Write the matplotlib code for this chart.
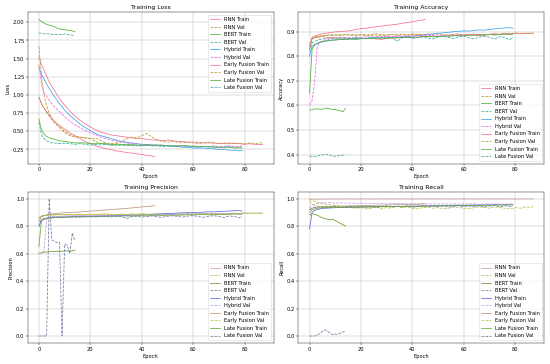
import matplotlib
matplotlib.use("Agg")
import matplotlib.pyplot as plt

# epochs at which values were read (denser at start)
rnn_epochs = [0, 1, 2, 3, 4, 5, 6] + list(range(8, 87, 2)) + [87]
hyb_epochs = [0, 1, 2, 3, 4, 5, 6] + list(range(8, 79, 2)) + [79]
late_epochs = hyb_epochs
early_epochs = [0, 1, 2, 3, 4, 5, 6] + list(range(8, 45, 2)) + [45]
bert_epochs = list(range(15))

# ---- loss ----
rnn_loss_train = [1.52, 1.42, 1.34, 1.26, 1.18, 1.12, 1.06, 0.95, 0.86, 0.78, 0.71, 0.65, 0.60, 0.56, 0.52, 0.49, 0.47,
                  0.45, 0.44, 0.43, 0.42, 0.41, 0.40, 0.40, 0.39, 0.38, 0.38, 0.37, 0.38, 0.37, 0.36, 0.36, 0.35,
                  0.35, 0.35, 0.34, 0.34, 0.34, 0.33, 0.33, 0.34, 0.33, 0.33, 0.32, 0.33, 0.32, 0.32, 0.32]
rnn_loss_val = [1.67, 1.25, 1.00, 0.85, 0.75, 0.68, 0.62, 0.55, 0.48, 0.44, 0.42, 0.42, 0.41, 0.40, 0.41, 0.37, 0.34,
                0.33, 0.34, 0.36, 0.40, 0.42, 0.41, 0.44, 0.47, 0.42, 0.38, 0.36, 0.35, 0.36, 0.35, 0.34, 0.35,
                0.34, 0.33, 0.34, 0.35, 0.34, 0.33, 0.34, 0.33, 0.34, 0.33, 0.33, 0.34, 0.33, 0.34, 0.34]
bert_loss_train = [2.04, 2.01, 1.99, 1.97, 1.96, 1.95, 1.94, 1.92, 1.91, 1.90, 1.90, 1.89, 1.89, 1.88, 1.87]
bert_loss_val = [1.85, 1.85, 1.84, 1.84, 1.84, 1.83, 1.83, 1.83, 1.83, 1.83, 1.84, 1.83, 1.83, 1.82, 1.82]
hyb_loss_train = [1.38, 1.28, 1.22, 1.15, 1.09, 1.03, 0.98, 0.88, 0.79, 0.72, 0.66, 0.60, 0.55, 0.51, 0.47, 0.44, 0.42,
                  0.40, 0.38, 0.36, 0.35, 0.34, 0.33, 0.32, 0.32, 0.31, 0.31, 0.30, 0.30, 0.29, 0.29, 0.28, 0.28,
                  0.27, 0.27, 0.27, 0.26, 0.26, 0.25, 0.25, 0.24, 0.24, 0.23, 0.24]
hyb_loss_val = [1.42, 1.15, 1.02, 0.98, 0.93, 0.88, 0.84, 0.77, 0.70, 0.64, 0.59, 0.55, 0.51, 0.48, 0.45, 0.42, 0.40,
                0.38, 0.37, 0.35, 0.34, 0.33, 0.33, 0.32, 0.32, 0.31, 0.31, 0.31, 0.30, 0.30, 0.30, 0.30, 0.29,
                0.30, 0.29, 0.29, 0.29, 0.30, 0.29, 0.29, 0.30, 0.29, 0.29, 0.30]
early_loss_train = [0.97, 0.88, 0.82, 0.77, 0.72, 0.68, 0.64, 0.58, 0.53, 0.48, 0.44, 0.40, 0.36, 0.33, 0.30, 0.28,
                    0.26, 0.25, 0.23, 0.22, 0.21, 0.20, 0.19, 0.18, 0.17, 0.16, 0.15]
early_loss_val = [0.97, 0.88, 0.82, 0.76, 0.71, 0.66, 0.62, 0.56, 0.50, 0.46, 0.43, 0.42, 0.41, 0.40, 0.36, 0.33,
                  0.32, 0.31, 0.33, 0.32, 0.31, 0.30, 0.31, 0.30, 0.31, 0.30, 0.30]
late_loss_train = [0.67, 0.52, 0.46, 0.43, 0.41, 0.40, 0.39, 0.37, 0.36, 0.35, 0.34, 0.34, 0.34, 0.33, 0.33, 0.33,
                   0.33, 0.32, 0.32, 0.32, 0.32, 0.32, 0.31, 0.31, 0.31, 0.31, 0.31, 0.31, 0.30, 0.30, 0.30, 0.30,
                   0.30, 0.29, 0.29, 0.29, 0.29, 0.28, 0.28, 0.28, 0.28, 0.27, 0.27, 0.27]
late_loss_val = [0.62, 0.45, 0.40, 0.37, 0.35, 0.34, 0.34, 0.33, 0.33, 0.33, 0.32, 0.33, 0.32, 0.31, 0.32, 0.31,
                 0.32, 0.31, 0.30, 0.31, 0.30, 0.31, 0.30, 0.30, 0.31, 0.30, 0.30, 0.29, 0.30, 0.30, 0.29, 0.30,
                 0.29, 0.29, 0.28, 0.29, 0.28, 0.29, 0.28, 0.28, 0.29, 0.28, 0.28, 0.29]

# ---- accuracy ----
rnn_acc_train = [0.83, 0.87, 0.875, 0.877, 0.878, 0.88, 0.878, 0.876, 0.875, 0.874, 0.873, 0.872, 0.872, 0.873, 0.872,
                 0.873, 0.870, 0.868, 0.872, 0.873, 0.874, 0.876, 0.877, 0.876, 0.878, 0.879, 0.880, 0.881, 0.880,
                 0.882, 0.883, 0.884, 0.883, 0.885, 0.886, 0.886, 0.888, 0.887, 0.889, 0.890, 0.889, 0.891, 0.890,
                 0.892, 0.893, 0.892, 0.894, 0.893]
rnn_acc_val = [0.84, 0.875, 0.878, 0.88, 0.882, 0.885, 0.884, 0.888, 0.886, 0.889, 0.887, 0.890, 0.886, 0.889, 0.887,
               0.889, 0.891, 0.888, 0.885, 0.889, 0.887, 0.890, 0.888, 0.891, 0.889, 0.886, 0.890, 0.888, 0.892,
               0.887, 0.885, 0.889, 0.891, 0.886, 0.888, 0.890, 0.887, 0.884, 0.889, 0.891, 0.888, 0.893, 0.890,
               0.895, 0.891, 0.894, 0.892, 0.894]
bert_acc_train = [0.581, 0.582, 0.585, 0.586, 0.584, 0.585, 0.587, 0.589, 0.585, 0.584, 0.583, 0.580, 0.578, 0.574,
                  0.588]
bert_acc_val = [0.392, 0.393, 0.391, 0.394, 0.396, 0.399, 0.402, 0.400, 0.397, 0.394, 0.393, 0.395, 0.394, 0.398,
                0.399]
hyb_acc_train = [0.80, 0.84, 0.848, 0.852, 0.856, 0.858, 0.860, 0.864, 0.866, 0.868, 0.869, 0.870, 0.871, 0.872,
                 0.873, 0.874, 0.875, 0.876, 0.877, 0.878, 0.878, 0.880, 0.879, 0.882, 0.884, 0.886, 0.889, 0.891,
                 0.893, 0.895, 0.897, 0.900, 0.901, 0.903, 0.902, 0.905, 0.907, 0.906, 0.909, 0.911, 0.913, 0.915,
                 0.916, 0.913]
hyb_acc_val = [0.60, 0.62, 0.70, 0.84, 0.855, 0.862, 0.866, 0.870, 0.872, 0.874, 0.876, 0.875, 0.878, 0.877, 0.879,
               0.878, 0.880, 0.879, 0.881, 0.880, 0.882, 0.881, 0.883, 0.882, 0.884, 0.883, 0.885, 0.884, 0.886,
               0.885, 0.887, 0.886, 0.888, 0.887, 0.888, 0.889, 0.887, 0.889, 0.888, 0.890, 0.889, 0.891, 0.890,
               0.889]
early_acc_train = [0.83, 0.875, 0.882, 0.886, 0.889, 0.891, 0.893, 0.896, 0.899, 0.900, 0.902, 0.904, 0.909, 0.912,
                   0.914, 0.917, 0.920, 0.922, 0.925, 0.928, 0.930, 0.934, 0.937, 0.940, 0.944, 0.947, 0.950]
early_acc_val = [0.85, 0.872, 0.876, 0.879, 0.880, 0.882, 0.884, 0.883, 0.886, 0.884, 0.887, 0.885, 0.884, 0.886,
                 0.883, 0.885, 0.887, 0.884, 0.886, 0.888, 0.885, 0.887, 0.886, 0.888, 0.887, 0.889, 0.888]
late_acc_train = [0.65, 0.83, 0.845, 0.852, 0.857, 0.86, 0.862, 0.865, 0.866, 0.868, 0.869, 0.870, 0.868, 0.871,
                  0.872, 0.871, 0.873, 0.874, 0.873, 0.875, 0.876, 0.875, 0.877, 0.878, 0.877, 0.879, 0.880, 0.879,
                  0.881, 0.882, 0.881, 0.883, 0.884, 0.883, 0.885, 0.886, 0.884, 0.887, 0.888, 0.886, 0.889, 0.890,
                  0.889, 0.890]
late_acc_val = [0.82, 0.855, 0.86, 0.865, 0.868, 0.87, 0.872, 0.874, 0.870, 0.875, 0.873, 0.871, 0.876, 0.874, 0.872,
                0.877, 0.875, 0.873, 0.878, 0.876, 0.861, 0.875, 0.878, 0.872, 0.876, 0.880, 0.874, 0.870, 0.878,
                0.881, 0.876, 0.872, 0.879, 0.882, 0.875, 0.870, 0.878, 0.881, 0.877, 0.869, 0.880, 0.876, 0.866,
                0.879]

# ---- precision ----
rnn_prec_train = [0.86, 0.875, 0.878, 0.88, 0.882, 0.884, 0.885, 0.884, 0.883, 0.882, 0.881, 0.880, 0.880, 0.881,
                  0.880, 0.881, 0.879, 0.878, 0.880, 0.881, 0.882, 0.883, 0.884, 0.883, 0.885, 0.886, 0.886, 0.887,
                  0.886, 0.888, 0.888, 0.889, 0.888, 0.890, 0.890, 0.891, 0.892, 0.891, 0.893, 0.893, 0.892, 0.894,
                  0.893, 0.895, 0.895, 0.894, 0.896, 0.895]
rnn_prec_val = [0.85, 0.87, 0.875, 0.878, 0.88, 0.882, 0.880, 0.885, 0.883, 0.887, 0.884, 0.889, 0.882, 0.888, 0.885,
                0.887, 0.890, 0.884, 0.881, 0.888, 0.884, 0.889, 0.886, 0.891, 0.887, 0.883, 0.889, 0.886, 0.892,
                0.884, 0.880, 0.887, 0.891, 0.882, 0.886, 0.890, 0.884, 0.879, 0.888, 0.891, 0.886, 0.893, 0.889,
                0.896, 0.890, 0.894, 0.891, 0.885]
bert_prec_train = [0.60, 0.605, 0.61, 0.612, 0.614, 0.615, 0.616, 0.617, 0.618, 0.617, 0.619, 0.620, 0.618, 0.621,
                   0.625]
bert_prec_val = [0.0, 0.0, 0.0, 0.0, 1.0, 0.70, 0.69, 0.68, 0.68, 0.0, 0.67, 0.66, 0.60, 0.75, 0.69]
hyb_prec_train = [0.80, 0.84, 0.85, 0.855, 0.858, 0.860, 0.862, 0.864, 0.866, 0.867, 0.868, 0.869, 0.870, 0.871,
                  0.872, 0.873, 0.874, 0.875, 0.876, 0.877, 0.878, 0.879, 0.880, 0.882, 0.884, 0.886, 0.888, 0.890,
                  0.892, 0.893, 0.895, 0.897, 0.898, 0.900, 0.899, 0.902, 0.904, 0.903, 0.906, 0.908, 0.910, 0.912,
                  0.913, 0.910]
hyb_prec_val = [0.60, 0.61, 0.62, 0.86, 0.865, 0.868, 0.870, 0.872, 0.874, 0.875, 0.876, 0.875, 0.877, 0.876, 0.878,
                0.877, 0.879, 0.878, 0.880, 0.879, 0.881, 0.880, 0.882, 0.881, 0.883, 0.882, 0.884, 0.883, 0.885,
                0.884, 0.886, 0.885, 0.887, 0.886, 0.887, 0.888, 0.886, 0.888, 0.887, 0.889, 0.888, 0.890, 0.889,
                0.888]
early_prec_train = [0.83, 0.87, 0.878, 0.882, 0.886, 0.889, 0.891, 0.894, 0.897, 0.899, 0.901, 0.903, 0.907, 0.910,
                    0.912, 0.915, 0.918, 0.920, 0.923, 0.926, 0.929, 0.932, 0.936, 0.939, 0.943, 0.946, 0.950]
early_prec_val = [0.86, 0.87, 0.874, 0.877, 0.879, 0.881, 0.883, 0.882, 0.885, 0.883, 0.886, 0.884, 0.882, 0.885,
                  0.881, 0.884, 0.886, 0.882, 0.885, 0.887, 0.883, 0.886, 0.884, 0.887, 0.885, 0.888, 0.886]
late_prec_train = [0.65, 0.84, 0.85, 0.855, 0.858, 0.86, 0.862, 0.864, 0.865, 0.866, 0.867, 0.868, 0.867, 0.869,
                   0.870, 0.869, 0.871, 0.872, 0.871, 0.873, 0.874, 0.873, 0.875, 0.876, 0.875, 0.877, 0.878, 0.877,
                   0.879, 0.880, 0.879, 0.881, 0.882, 0.881, 0.883, 0.884, 0.882, 0.885, 0.886, 0.884, 0.887, 0.888,
                   0.887, 0.888]
late_prec_val = [0.80, 0.85, 0.855, 0.86, 0.862, 0.865, 0.866, 0.868, 0.864, 0.869, 0.867, 0.865, 0.870, 0.868,
                 0.866, 0.871, 0.869, 0.867, 0.872, 0.870, 0.855, 0.869, 0.872, 0.866, 0.870, 0.874, 0.868, 0.864,
                 0.872, 0.875, 0.870, 0.866, 0.873, 0.876, 0.869, 0.864, 0.872, 0.875, 0.871, 0.863, 0.874, 0.870,
                 0.860, 0.873]

# ---- recall ----
rnn_rec_train = [0.99, 0.995, 0.996, 0.996, 0.997, 0.997, 0.997, 0.997, 0.998, 0.997, 0.998, 0.998, 0.997, 0.998,
                 0.998, 0.997, 0.998, 0.998, 0.998, 0.997, 0.998, 0.998, 0.998, 0.997, 0.998, 0.998, 0.998, 0.997,
                 0.998, 0.998, 0.998, 0.997, 0.998, 0.998, 0.998, 0.997, 0.998, 0.998, 0.998, 0.997, 0.998, 0.998,
                 0.998, 0.997, 0.998, 0.998, 0.998, 0.998]
rnn_rec_val = [1.0, 0.99, 0.98, 0.975, 0.97, 0.965, 0.96, 0.955, 0.95, 0.945, 0.94, 0.935, 0.93, 0.935, 0.925, 0.93,
               0.94, 0.925, 0.935, 0.93, 0.945, 0.935, 0.94, 0.93, 0.925, 0.935, 0.94, 0.93, 0.935, 0.925, 0.93,
               0.94, 0.935, 0.93, 0.925, 0.935, 0.94, 0.935, 0.93, 0.94, 0.935, 0.93, 0.925, 0.935, 0.93, 0.94,
               0.935, 0.945]
bert_rec_train = [0.88, 0.89, 0.885, 0.88, 0.87, 0.86, 0.855, 0.85, 0.845, 0.85, 0.84, 0.83, 0.82, 0.81, 0.80]
bert_rec_val = [0.0, 0.0, 0.0, 0.005, 0.02, 0.035, 0.045, 0.035, 0.02, 0.01, 0.015, 0.012, 0.02, 0.03, 0.035]
hyb_rec_train = [0.78, 0.90, 0.915, 0.92, 0.925, 0.928, 0.93, 0.932, 0.934, 0.935, 0.936, 0.937, 0.938, 0.939, 0.940,
                 0.940, 0.941, 0.942, 0.942, 0.943, 0.944, 0.944, 0.945, 0.946, 0.946, 0.947, 0.948, 0.948, 0.949,
                 0.950, 0.950, 0.951, 0.952, 0.952, 0.953, 0.954, 0.954, 0.955, 0.956, 0.956, 0.957, 0.958, 0.958,
                 0.957]
hyb_rec_val = [0.93, 0.95, 0.96, 0.965, 0.968, 0.97, 0.968, 0.97, 0.967, 0.969, 0.966, 0.968, 0.965, 0.967, 0.964,
               0.966, 0.963, 0.965, 0.962, 0.964, 0.963, 0.965, 0.962, 0.964, 0.961, 0.963, 0.960, 0.962, 0.961,
               0.963, 0.960, 0.962, 0.959, 0.961, 0.960, 0.962, 0.959, 0.961, 0.960, 0.962, 0.959, 0.961, 0.960,
               0.961]
early_rec_train = [0.92, 0.93, 0.935, 0.94, 0.94, 0.942, 0.943, 0.944, 0.945, 0.946, 0.946, 0.947, 0.948, 0.949,
                   0.950, 0.951, 0.952, 0.953, 0.954, 0.955, 0.956, 0.957, 0.958, 0.959, 0.960, 0.961, 0.962]
early_rec_val = [0.98, 0.96, 0.95, 0.945, 0.94, 0.942, 0.938, 0.944, 0.94, 0.946, 0.939, 0.943, 0.937, 0.945, 0.941,
                 0.938, 0.944, 0.940, 0.946, 0.939, 0.943, 0.937, 0.945, 0.941, 0.944, 0.940, 0.943]
late_rec_train = [0.90, 0.92, 0.925, 0.93, 0.932, 0.934, 0.935, 0.936, 0.937, 0.937, 0.938, 0.938, 0.939, 0.939,
                  0.940, 0.940, 0.941, 0.941, 0.942, 0.942, 0.943, 0.943, 0.944, 0.944, 0.945, 0.945, 0.946, 0.946,
                  0.947, 0.947, 0.948, 0.948, 0.949, 0.949, 0.950, 0.950, 0.951, 0.951, 0.952, 0.952, 0.953, 0.953,
                  0.954, 0.954]
late_rec_val = [0.92, 0.93, 0.935, 0.938, 0.94, 0.936, 0.942, 0.938, 0.944, 0.935, 0.941, 0.946, 0.937, 0.943,
                0.939, 0.945, 0.936, 0.942, 0.947, 0.938, 0.944, 0.940, 0.946, 0.937, 0.943, 0.948, 0.939, 0.945,
                0.941, 0.947, 0.938, 0.944, 0.949, 0.940, 0.946, 0.942, 0.948, 0.939, 0.945, 0.950, 0.941, 0.947,
                0.943, 0.949]

models = ["RNN", "BERT", "Hybrid", "Early Fusion", "Late Fusion"]
epochs = [rnn_epochs, bert_epochs, hyb_epochs, early_epochs, late_epochs]

# husl-like palette for top row, muted one for bottom row
top_colors = ["#f77189", "#bb9832", "#50b131", "#36ada4", "#3ba3ec", "#f561dd"]
bottom_colors = ["#c9a0a0", "#b9c23c", "#6b9a2a", "#6f7f9c", "#5b6de0", "#c39be6",
                 "#b89580", "#bcc248", "#6aa83a", "#6f7f9c"]

panels = [
    ("Training Loss", "Loss", [(rnn_loss_train, rnn_loss_val), (bert_loss_train, bert_loss_val),
                               (hyb_loss_train, hyb_loss_val), (early_loss_train, early_loss_val),
                               (late_loss_train, late_loss_val)]),
    ("Training Accuracy", "Accuracy", [(rnn_acc_train, rnn_acc_val), (bert_acc_train, bert_acc_val),
                                       (hyb_acc_train, hyb_acc_val), (early_acc_train, early_acc_val),
                                       (late_acc_train, late_acc_val)]),
    ("Training Precision", "Precision", [(rnn_prec_train, rnn_prec_val), (bert_prec_train, bert_prec_val),
                                         (hyb_prec_train, hyb_prec_val), (early_prec_train, early_prec_val),
                                         (late_prec_train, late_prec_val)]),
    ("Training Recall", "Recall", [(rnn_rec_train, rnn_rec_val), (bert_rec_train, bert_rec_val),
                                   (hyb_rec_train, hyb_rec_val), (early_rec_train, early_rec_val),
                                   (late_rec_train, late_rec_val)]),
]
legend_locs = ["upper right", "lower right", "lower right", "lower right"]

fig, axes = plt.subplots(2, 2, figsize=(15, 9.93), dpi=550 / 15)
for p, (ax, (title, ylabel, series)) in enumerate(zip(axes.flat, panels)):
    k = 0
    for name, ep, (tr, va) in zip(models, epochs, series):
        for kind, vals, ls in (("Train", tr, "-"), ("Val", va, "--")):
            if p < 2:
                color = top_colors[k % 6]
            else:
                color = bottom_colors[k]
            n = min(len(ep), len(vals))
            ax.plot(ep[:n], vals[:n], ls, color=color, lw=1.5, label=f"{name} {kind}")
            k += 1
    ax.set_title(title)
    ax.set_xlabel("Epoch")
    ax.set_ylabel(ylabel)
    ax.grid(True)
    ax.legend(loc=legend_locs[p])

plt.tight_layout()
plt.savefig("out.png", dpi=550 / 15)
